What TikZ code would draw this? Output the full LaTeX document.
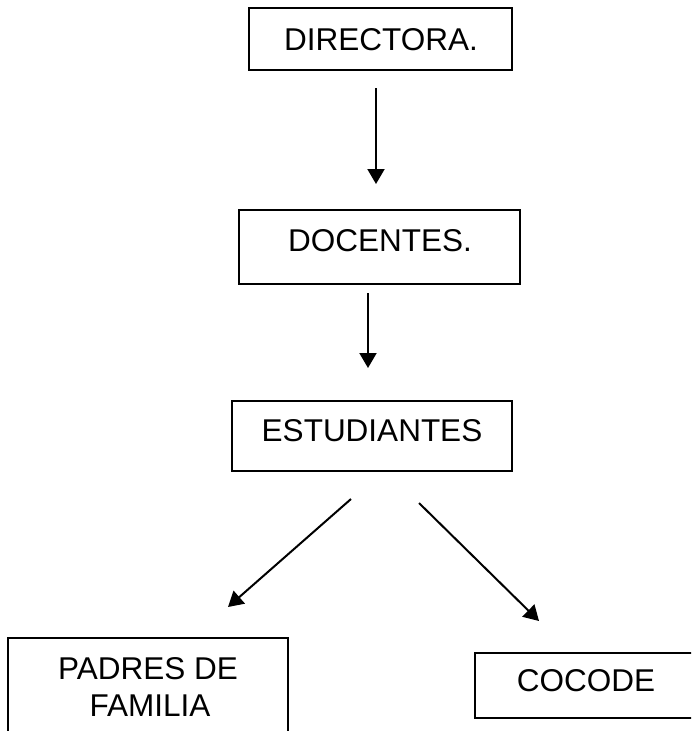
\documentclass[tikz,border=0pt]{standalone}
\usepackage{fontspec}
\setmainfont{Liberation Sans}
\usetikzlibrary{arrows.meta}
\begin{document}
\begin{tikzpicture}[x=1pt,y=-1pt,
  box/.style={draw=black, line width=2pt, fill=none, inner sep=0pt, anchor=center},
  lbl/.style={anchor=base, inner sep=0pt, font=\fontsize{31.5}{38}\selectfont, text=black},
  arr/.style={draw=black, line width=2pt, -{Triangle[width=17pt,length=15pt]}}]
\useasboundingbox (0,0) rectangle (691,731);
\fill[white] (0,0) rectangle (691,731);
\clip (0,0) rectangle (691,731);
% boxes
\node[box, minimum width=263pt, minimum height=62pt] (dir) at (380.5,39) {};
\node[box, minimum width=281pt, minimum height=74pt] (doc) at (379.5,247) {};
\node[box, minimum width=280pt, minimum height=70pt] (est) at (372,436) {};
\node[box, minimum width=280pt, minimum height=122pt] (pad) at (148,699) {};
\node[box, minimum width=225pt, minimum height=65pt] (coc) at (587.5,685.5) {};
% texts
\node[lbl] (dirt) at (381,50) {DIRECTORA.};
\node[lbl] (doct) at (380,251.7) {DOCENTES.};
\node[lbl] (estt) at (372,441.7) {ESTUDIANTES};
\node[lbl] (padt1) at (148,679.3) {PADRES DE};
\node[lbl] (padt2) at (150,716.7) {FAMILIA};
\node[lbl] (coct) at (586,691.7) {COCODE};
% connector ends
\coordinate (a1s) at (376,88);  \coordinate (a1e) at (376,184);
\coordinate (a2s) at (368,293); \coordinate (a2e) at (368,368);
\coordinate (a3s) at (351,499); \coordinate (a3e) at (228,607);
\coordinate (a4s) at (419,503); \coordinate (a4e) at (539,621);
\draw[arr] (a1s) -- (a1e);
\draw[arr] (a2s) -- (a2e);
\draw[arr] (a3s) -- (a3e);
\draw[arr] (a4s) -- (a4e);
\end{tikzpicture}
\end{document}
